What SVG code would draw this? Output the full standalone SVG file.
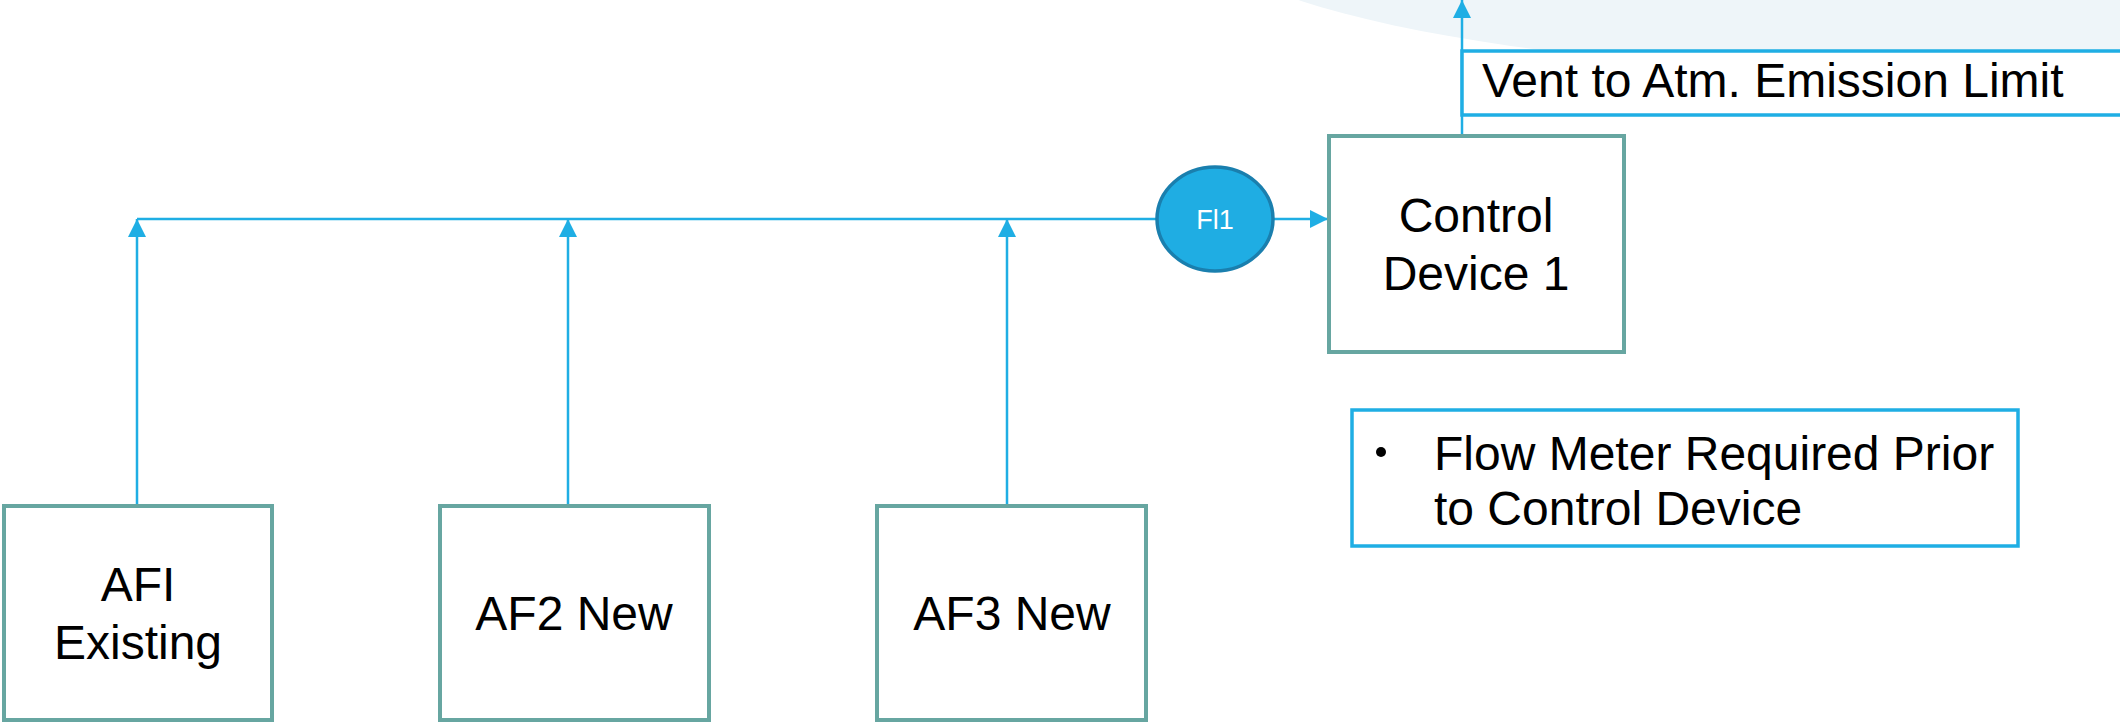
<svg xmlns="http://www.w3.org/2000/svg" width="2120" height="724" viewBox="0 0 2120 724">
  <style>
    .unit { fill: #ffffff; stroke: #67A6A1; stroke-width: 4; }
    .note { fill: #ffffff; stroke: #1FAEE4; stroke-width: 3.5; }
    .label { font-family: "Liberation Sans", Arial, sans-serif; font-size: 48px; fill: #000000; }
    .mid { text-anchor: middle; }
    .flow { fill: none; stroke: #1FAEE4; stroke-width: 2.5; }
  </style>
  <defs>
    <marker id="arrow" markerUnits="userSpaceOnUse" markerWidth="18" markerHeight="18" viewBox="0 0 16 16" refX="16" refY="8" orient="auto">
      <path d="M0,0 L16,8 L0,16 Z" fill="#1FAEE4"/>
    </marker>
  </defs>

  <!-- white page with the pale corner decoration -->
  <rect width="2120" height="724" fill="#ffffff"/>
  <ellipse cx="2050" cy="-70" rx="850" ry="150" fill="#EEF5F9"/>

  <!-- connectors -->
  <g id="connectors">
    <line class="flow" x1="137" y1="219" x2="1160" y2="219"/>
    <line class="flow" x1="137" y1="506" x2="137" y2="219" marker-end="url(#arrow)"/>
    <line class="flow" x1="568" y1="506" x2="568" y2="219" marker-end="url(#arrow)"/>
    <line class="flow" x1="1007" y1="506" x2="1007" y2="219" marker-end="url(#arrow)"/>
    <line class="flow" x1="1273" y1="219" x2="1328" y2="219" marker-end="url(#arrow)"/>
    <line class="flow" x1="1462" y1="135" x2="1462" y2="0" marker-end="url(#arrow)"/>
  </g>

  <!-- vent label box -->
  <g id="vent-limit">
    <rect class="note" x="1462" y="51" width="680" height="64"/>
    <text class="label" x="1482" y="97" font-size="49">Vent to Atm. Emission Limit</text>
  </g>

  <!-- flow meter FI1 -->
  <g id="fl1">
    <ellipse cx="1215" cy="219" rx="58" ry="52" fill="#1FADE3" stroke="#1A7FAE" stroke-width="3.5"/>
    <text x="1215" y="229" text-anchor="middle" font-family="Liberation Sans, Arial, sans-serif" font-size="27" fill="#ffffff">Fl1</text>
  </g>

  <!-- control device -->
  <g id="control-device-1">
    <rect class="unit" x="1329" y="136" width="295" height="216"/>
    <text class="label mid" x="1476" y="232">Control</text>
    <text class="label mid" x="1476" y="290">Device 1</text>
  </g>

  <!-- note -->
  <g id="flow-meter-note">
    <rect class="note" x="1352" y="410" width="666" height="136"/>
    <circle cx="1381" cy="452" r="5" fill="#000000"/>
    <text class="label" x="1434" y="470">Flow Meter Required Prior</text>
    <text class="label" x="1434" y="525">to Control Device</text>
  </g>

  <!-- air filter units -->
  <g id="af1">
    <rect class="unit" x="4" y="506" width="268" height="214"/>
    <text class="label mid" x="138" y="601">AFI</text>
    <text class="label mid" x="138" y="659">Existing</text>
  </g>
  <g id="af2">
    <rect class="unit" x="440" y="506" width="269" height="214"/>
    <text class="label mid" x="574" y="630">AF2 New</text>
  </g>
  <g id="af3">
    <rect class="unit" x="877" y="506" width="269" height="214"/>
    <text class="label mid" x="1012" y="630">AF3 New</text>
  </g>
</svg>
